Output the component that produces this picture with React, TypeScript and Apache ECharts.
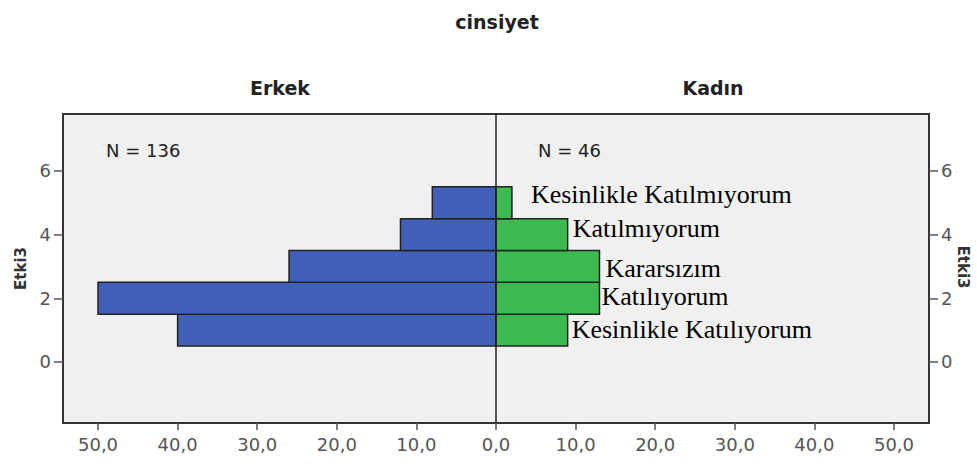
import React, { useEffect, useRef } from "react";
import * as echarts from "echarts";

// Etki3 levels (y positions) and answer labels
const levels = [1, 2, 3, 4, 5];
const answerLabels = [
  "Kesinlikle Katılıyorum",
  "Katılıyorum",
  "Kararsızım",
  "Katılmıyorum",
  "Kesinlikle Katılmıyorum",
];
// counts per level
const erkekCounts = [40, 50, 26, 12, 8];
const kadinCounts = [9, 13, 13, 9, 2];
const xTicks = [-50, -40, -30, -20, -10, 0, 10, 20, 30, 40, 50];
const yTicks = [0, 2, 4, 6];
const nErkek = "N = 136";
const nKadin = "N = 46";
const yName = "Etki3";

// label placement (layout, pixels) relative to the end of each Kadın bar
const labelDx = [4, 2, 6, 5, 19];
const labelDy = [-1, -2, 2, -6, -8];

const BLUE = "#4360b8";
const GREEN = "#3dbb52";
const EDGE = "#222";
const SANS = "DejaVu Sans, Liberation Sans, sans-serif";

export default function App() {
  const ref = useRef<HTMLDivElement>(null);
  useEffect(() => {
    document.body.style.margin = "0";
    if (!ref.current) return;
    const chart = echarts.init(ref.current, undefined, { renderer: "svg" });

    const makeRender = (color: string, withLabels: boolean) => (params: any, api: any) => {
      const v = api.value(0);
      const y = api.value(1);
      const p0 = api.coord([0, y + 0.5]);
      const p1 = api.coord([v, y - 0.5]);
      const x = Math.min(p0[0], p1[0]);
      const w = Math.abs(p1[0] - p0[0]);
      const children: any[] = [
        {
          type: "rect",
          shape: { x, y: p0[1], width: w, height: p1[1] - p0[1] },
          style: { fill: color, stroke: EDGE, lineWidth: 1.5 },
        },
      ];
      if (withLabels) {
        const i = params.dataIndex;
        children.push({
          type: "text",
          x: p1[0] + labelDx[i],
          y: (p0[1] + p1[1]) / 2 + labelDy[i],
          style: {
            text: answerLabels[i],
            fontFamily: "Liberation Serif, Times New Roman, serif",
            fontSize: 26,
            fill: "#000",
            align: "left",
            verticalAlign: "middle",
          },
        });
      }
      return { type: "group", children };
    };

    const axisLabelFmt = (v: number) => Math.abs(v).toFixed(1).replace(".", ",");

    const yAxisBase = {
      type: "value",
      min: -1.92,
      max: 7.79,
      splitLine: { show: false },
      axisLine: { show: false, onZero: false },
      axisTick: { show: true, customValues: yTicks, length: 9, lineStyle: { color: "#555", width: 1.5 } },
      axisLabel: { customValues: yTicks, color: "#555", fontFamily: SANS, fontSize: 18, margin: 12 },
      nameLocation: "middle",
      nameTextStyle: { fontFamily: SANS, fontWeight: "bold", fontSize: 15, color: "#333" },
    };

    chart.setOption({
      animation: false,
      backgroundColor: "#fff",
      grid: {
        left: 63,
        right: 48,
        top: 114,
        bottom: 46,
        outerBoundsMode: "none",
        containLabel: false,
        show: true,
        backgroundColor: "#f0f0f0",
        borderColor: "#333",
        borderWidth: 2,
      },
      xAxis: {
        type: "value",
        min: -54.4,
        max: 54.4,
        splitLine: { show: false },
        axisLine: { show: false, onZero: false },
        axisTick: { show: true, customValues: xTicks, length: 7, lineStyle: { color: "#555", width: 1.5 } },
        axisLabel: { customValues: xTicks, formatter: axisLabelFmt, color: "#555", fontFamily: SANS, fontSize: 18, margin: 12 },
      },
      yAxis: [
        { ...yAxisBase, position: "left", name: yName, nameRotate: 90, nameGap: 34 },
        { ...yAxisBase, position: "right" },
      ],
      graphic: [
        { type: "text", x: 497, y: 22, style: { text: "cinsiyet", fontFamily: SANS, fontWeight: "bold", fontSize: 19, fill: "#222", align: "center", verticalAlign: "middle" } },
        { type: "text", x: 280, y: 88, style: { text: "Erkek", fontFamily: SANS, fontWeight: "bold", fontSize: 19, fill: "#222", align: "center", verticalAlign: "middle" } },
        { type: "text", x: 713, y: 88, style: { text: "Kadın", fontFamily: SANS, fontWeight: "bold", fontSize: 19, fill: "#222", align: "center", verticalAlign: "middle" } },
        { type: "text", x: 106, y: 150, style: { text: nErkek, fontFamily: SANS, fontSize: 18, fill: "#222", align: "left", verticalAlign: "middle" } },
        { type: "text", x: 538, y: 150, style: { text: nKadin, fontFamily: SANS, fontSize: 18, fill: "#222", align: "left", verticalAlign: "middle" } },
        { type: "text", x: 963, y: 267, rotation: -Math.PI / 2, style: { text: yName, fontFamily: SANS, fontWeight: "bold", fontSize: 15, fill: "#333", align: "center", verticalAlign: "middle" } },
      ],
      series: [
        {
          name: "Erkek",
          type: "custom",
          xAxisIndex: 0,
          yAxisIndex: 0,
          encode: { x: 0, y: 1 },
          renderItem: makeRender(BLUE, false),
          data: levels.map((l, i) => [-erkekCounts[i], l]),
          markLine: {
            silent: true,
            symbol: "none",
            label: { show: false },
            lineStyle: { color: "#222", width: 1.5, type: "solid" },
            data: [{ xAxis: 0 }],
          },
        },
        {
          name: "Kadın",
          type: "custom",
          xAxisIndex: 0,
          yAxisIndex: 0,
          encode: { x: 0, y: 1 },
          renderItem: makeRender(GREEN, true),
          data: levels.map((l, i) => [kadinCounts[i], l]),
        },
      ],
    });
    return () => chart.dispose();
  }, []);
  return <div ref={ref} style={{ width: 977, height: 469 }} />;
}
